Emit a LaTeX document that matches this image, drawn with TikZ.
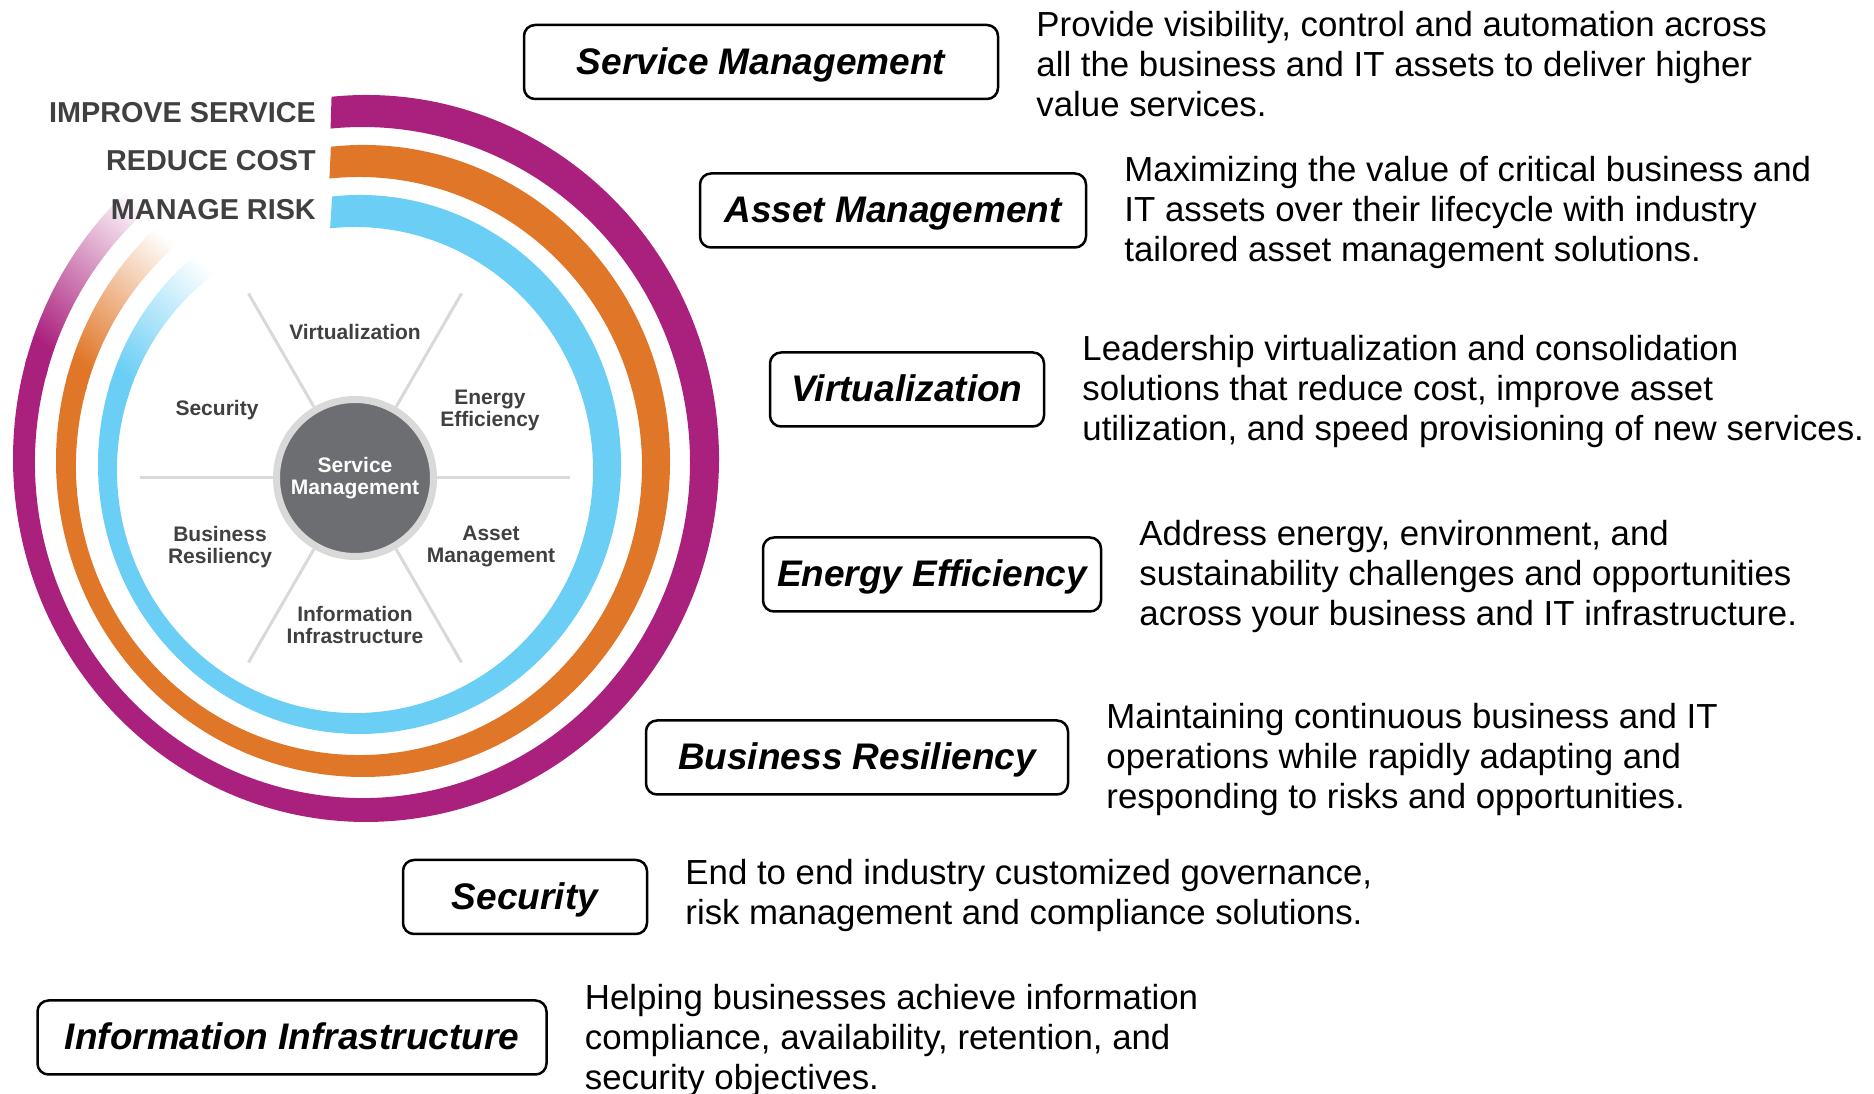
\documentclass[tikz,border=0pt]{standalone}
\usepackage{fontspec}
\setmainfont{Liberation Sans}
\usetikzlibrary{positioning,calc}
\definecolor{ringpurple}{HTML}{AA207D}
\definecolor{ringorange}{HTML}{E07628}
\definecolor{ringblue}{HTML}{6ACEF5}
\definecolor{hubgray}{HTML}{6D6E71}
\definecolor{hubring}{HTML}{D9D9D9}
\definecolor{labelgray}{HTML}{404040}
\begin{document}
\begin{tikzpicture}[x=1pt,y=1pt]
	\tikzset{goal/.style = {anchor=base east, text=labelgray, inner sep=0, font=\fontsize{28.8}{34}\selectfont\bfseries}}
	\tikzset{area/.style = {text=labelgray, align=center, inner sep=0, font=\fontsize{21}{22}\selectfont\bfseries}}
	\tikzset{hub/.style = {circle, fill=hubgray, draw=hubring, line width=7pt, minimum size=157pt, inner sep=0, text=white, align=center, font=\fontsize{21}{22}\selectfont\bfseries}}
	\tikzset{spoke/.style = {draw=hubring, line width=3pt}}
	\tikzset{offer/.style = {draw, rounded corners=11pt, line width=2.5pt, minimum height=74pt, inner sep=0, text height=32pt, text depth=7.8pt, font=\fontsize{37}{44}\selectfont\bfseries\itshape}}
	\tikzset{blurb/.style = {align=left, inner sep=0, yshift=-2.5pt, font=\fontsize{34.8}{40}\selectfont}}
	\useasboundingbox (0,0) rectangle (1874,1094);
	% ring centres, outer and inner edge of each band
	\coordinate (po) at (366,635.5);
	\coordinate (pi) at (362.5,631.5);
	\coordinate (oo) at (363,633);
	\coordinate (oi) at (359,628);
	\coordinate (bo) at (359.5,629.5);
	\coordinate (bi) at (355,624);
	% bands
	\fill[ringpurple] ($(po)+(95.6:353pt and 363.5pt)$) arc[start angle=95.6, end angle=-196, x radius=353pt, y radius=363.5pt] -- ($(pi)+(-196:327.5pt and 335.5pt)$) arc[start angle=-196, end angle=95.6, x radius=327.5pt, y radius=335.5pt] -- cycle;
	\shade[top color=white, bottom color=ringpurple, shading angle=-40] ($(po)+(-195:353pt and 363.5pt)$) arc[start angle=-195, end angle=-232, x radius=353pt, y radius=363.5pt] -- ($(pi)+(-232:327.5pt and 335.5pt)$) arc[start angle=-232, end angle=-195, x radius=327.5pt, y radius=335.5pt] -- cycle;
	\fill[ringorange] ($(oo)+(96:307pt and 316pt)$) arc[start angle=96, end angle=-196, x radius=307pt, y radius=316pt] -- ($(oi)+(-196:283pt and 289pt)$) arc[start angle=-196, end angle=96, x radius=283pt, y radius=289pt] -- cycle;
	\shade[top color=white, bottom color=ringorange, shading angle=-40] ($(oo)+(-195:307pt and 316pt)$) arc[start angle=-195, end angle=-232, x radius=307pt, y radius=316pt] -- ($(oi)+(-232:283pt and 289pt)$) arc[start angle=-232, end angle=-195, x radius=283pt, y radius=289pt] -- cycle;
	\fill[ringblue] ($(bo)+(96:261.5pt and 269.5pt)$) arc[start angle=96, end angle=-198, x radius=261.5pt, y radius=269.5pt] -- ($(bi)+(-198:238pt and 243pt)$) arc[start angle=-198, end angle=96, x radius=238pt, y radius=243pt] -- cycle;
	\shade[top color=white, bottom color=ringblue, shading angle=-40] ($(bo)+(-197:261.5pt and 269.5pt)$) arc[start angle=-197, end angle=-236, x radius=261.5pt, y radius=269.5pt] -- ($(bi)+(-236:238pt and 243pt)$) arc[start angle=-236, end angle=-197, x radius=238pt, y radius=243pt] -- cycle;
	\node[goal] (improve) at (316,971) {IMPROVE SERVICE};
	\node[goal] (reduce) at (316,923) {REDUCE COST};
	\node[goal] (risk) at (316,874) {MANAGE RISK};
	% hub and spokes
	\node[hub] (hub) at (355,616) {Service\\Management};
	\draw[spoke] (hub.0) -- ++(0:133);
	\draw[spoke] (hub.60) -- ++(60:131);
	\draw[spoke] (hub.120) -- ++(120:131);
	\draw[spoke] (hub.180) -- ++(180:133);
	\draw[spoke] (hub.240) -- ++(240:131);
	\draw[spoke] (hub.300) -- ++(300:131);
	\node[area] (virt) at (355,762) {Virtualization};
	\node[area] (energy) at (490,684) {Energy\\Efficiency};
	\node[area] (asset) at (491,547) {Asset\\Management};
	\node[area] (info) at (355,469) {Information\\Infrastructure};
	\node[area] (sec) at (217,684) {Security};
	\node[area] (resil) at (220,547) {Business\\Resiliency};
	% offerings
	\node[offer, minimum width=474pt] (sm) at (761,1032) {Service Management};
	\node[blurb, right=37pt of sm] (smtext) {Provide visibility, control and automation across\\all the business and IT assets to deliver higher\\value services.};
	\node[offer, minimum width=386pt] (am) at (893,883.5) {Asset Management};
	\node[blurb, right=37pt of am] (amtext) {Maximizing the value of critical business and\\IT assets over their lifecycle with industry\\tailored asset management solutions.};
	\node[offer, minimum width=274pt] (vi) at (907,704.5) {Virtualization};
	\node[blurb, right=37pt of vi] (vitext) {Leadership virtualization and consolidation\\solutions that reduce cost, improve asset\\utilization, and speed provisioning of new services.};
	\node[offer, minimum width=338pt] (ee) at (932,519.5) {Energy Efficiency};
	\node[blurb, right=37pt of ee] (eetext) {Address energy, environment, and\\sustainability challenges and opportunities\\across your business and IT infrastructure.};
	\node[offer, minimum width=422pt] (br) at (857,336.5) {Business Resiliency};
	\node[blurb, right=37pt of br] (brtext) {Maintaining continuous business and IT\\operations while rapidly adapting and\\responding to risks and opportunities.};
	\node[offer, minimum width=244pt] (se) at (525,197) {Security};
	\node[blurb, right=37pt of se, yshift=4pt] (setext) {End to end industry customized governance,\\risk management and compliance solutions.};
	\node[offer, minimum width=509pt] (ii) at (292,56.5) {Information Infrastructure};
	\node[blurb, right=37pt of ii, yshift=-1pt] (iitext) {Helping businesses achieve information\\compliance, availability, retention, and\\security objectives.};
\end{tikzpicture}
\end{document}
